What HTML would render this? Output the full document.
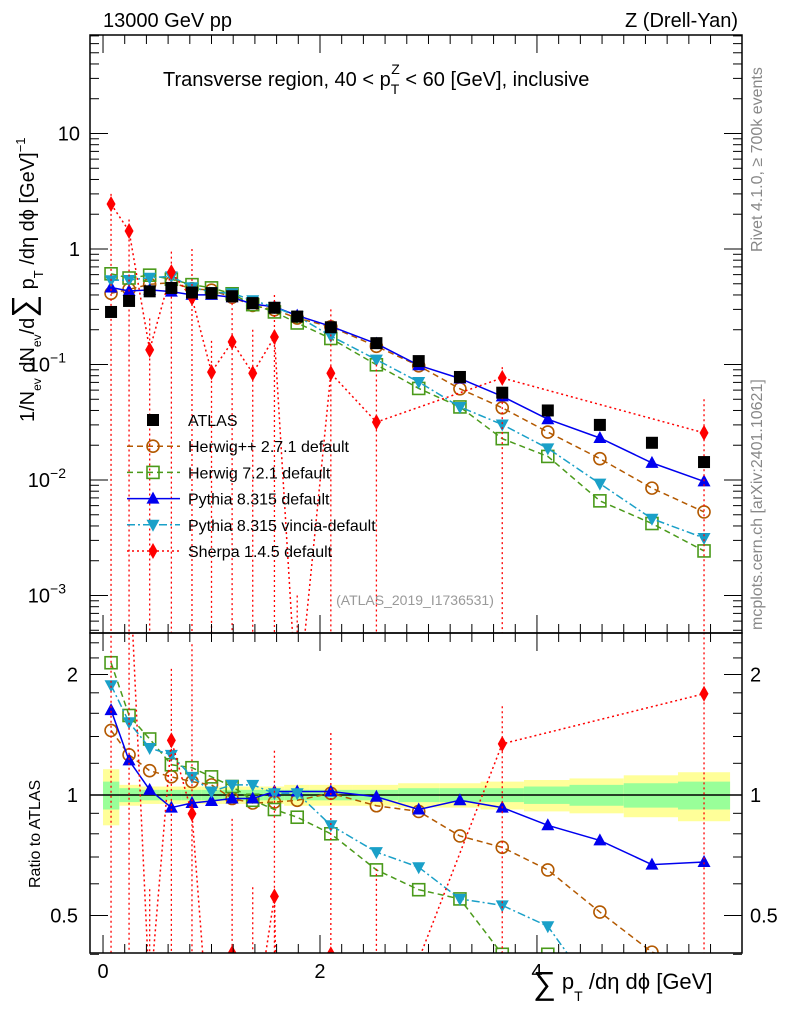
<!DOCTYPE html>
<html><head><meta charset="utf-8"><style>
html,body{margin:0;background:#fff;overflow:hidden;width:786px;height:1024px}
svg{font-family:"Liberation Sans",sans-serif;display:block}
</style></head><body>
<svg id="chart" width="786" height="1024" viewBox="0 0 786 1024" overflow="hidden" xmlns="http://www.w3.org/2000/svg"></svg>
<script>
const binX=[0.074,0.24,0.43,0.63,0.82,1.0,1.19,1.38,1.58,1.79,2.1,2.52,2.91,3.29,3.68,4.1,4.58,5.06,5.54];
const binEdges=[0,0.15,0.34,0.52,0.72,0.91,1.1,1.29,1.48,1.67,1.9,2.3,2.72,3.1,3.48,3.88,4.3,4.8,5.3,5.78];
const atlas=[0.285,0.355,0.43,0.46,0.42,0.415,0.39,0.34,0.31,0.26,0.21,0.153,0.107,0.078,0.057,0.040,0.030,0.021,0.0143];
const bandTot=[0.16,0.06,0.05,0.05,0.05,0.05,0.05,0.05,0.05,0.06,0.06,0.06,0.07,0.07,0.08,0.09,0.10,0.12,0.14];
const bandStat=[0.08,0.04,0.03,0.03,0.03,0.03,0.03,0.03,0.03,0.03,0.03,0.03,0.04,0.04,0.04,0.05,0.06,0.07,0.08];
const herwigpp=[1.45,1.26,1.15,1.11,1.08,1.06,0.98,0.955,0.96,0.97,1.01,0.94,0.91,0.79,0.74,0.65,0.51,0.405,0.37];
const herwig7=[2.14,1.58,1.38,1.19,1.17,1.11,1.05,0.97,0.92,0.88,0.80,0.65,0.58,0.55,0.40,0.40,0.22,0.20,0.17];
const pythia=[1.63,1.22,1.03,0.93,0.955,0.966,0.98,0.98,1.02,1.02,1.02,0.99,0.92,0.97,0.93,0.84,0.77,0.67,0.68];
const vincia=[1.88,1.52,1.31,1.26,1.11,1.02,1.06,1.06,1.01,1.01,0.84,0.72,0.66,0.55,0.53,0.47,0.31,0.22,0.22];
const sherpa=[2.45,1.43,0.134,0.63,0.377,0.086,0.157,0.084,0.173,0.0001,0.084,0.0317,null,null,0.0765,null,null,null,0.0256];
const sherpaHi=[3.0,1.8,0.25,0.95,1.0,0.16,0.34,0.2,0.4,0.001,0.3,0.1,null,null,0.095,null,null,null,0.05];
const yTicks=[10,1,0.1,0.01,0.001];
const yTickLabels=["10","1","10","10","10"];
const yTickExp=["","","−1","−2","−3"];
const rTicks=[0.5,1,2];
const rTickLabels=["0.5","1","2"];
const xTicks=[0,2,4];

const svg=document.getElementById('chart');const NS='http://www.w3.org/2000/svg';
function mk(tag,attrs,parent,name){const e=document.createElementNS(NS,tag);for(const k in attrs)e.setAttribute(k,attrs[k]);


(parent||svg).appendChild(e);return e;}
const L=90,R=742,T=35,M=633,B=953;
const xmin=-0.12,xmax=5.89;
const X=v=>L+(v-xmin)/(xmax-xmin)*(R-L);
const Y=v=>249-Math.log10(v)*115.5;
const RY=v=>795-Math.log2(v)*120.5;
const clipM=mk('clipPath',{id:'cm'},svg,'main-clip');mk('rect',{x:L,y:T,width:R-L,height:M-T},clipM,'main-clip-rect');
const clipR=mk('clipPath',{id:'cr'},svg,'ratio-clip');mk('rect',{x:L,y:M,width:R-L,height:B-M},clipR,'ratio-clip-rect');
const gM=mk('g',{'clip-path':'url(#cm)'},svg,'main-plot');
const gR=mk('g',{'clip-path':'url(#cr)'},svg,'ratio-plot');

for(let i=0;i<binX.length;i++){
 const x0=X(binEdges[i]),x1=X(binEdges[i+1]);
 mk('rect',{x:x0,y:RY(1+bandTot[i]),width:x1-x0,height:RY(1-bandTot[i])-RY(1+bandTot[i]),fill:'#ffff99'},gR,'total-uncertainty-band');
 mk('rect',{x:x0,y:RY(1+bandStat[i]),width:x1-x0,height:RY(1-bandStat[i])-RY(1+bandStat[i]),fill:'#99ff99'},gR,'stat-uncertainty-band');
}
mk('line',{x1:L,x2:R,y1:RY(1),y2:RY(1),stroke:'#000','stroke-width':1.5},gR,'ratio-unity-line');

function marker(g,type,x,y,c,name){
 const s=6;
 if(type==='sq')mk('rect',{x:x-s,y:y-s,width:2*s,height:2*s,fill:'#000'},g,name);
 if(type==='circ')mk('circle',{cx:x,cy:y,r:s,fill:'none',stroke:c,'stroke-width':1.6},g,name);
 if(type==='osq')mk('rect',{x:x-s,y:y-s,width:2*s,height:2*s,fill:'none',stroke:c,'stroke-width':1.6},g,name);
 if(type==='tri')mk('polygon',{points:`${x},${y-7} ${x-6.5},${y+5} ${x+6.5},${y+5}`,fill:c},g,name);
 if(type==='itri')mk('polygon',{points:`${x},${y+7} ${x-6.5},${y-5} ${x+6.5},${y-5}`,fill:c},g,name);
 if(type==='dia')mk('polygon',{points:`${x},${y-8} ${x-4.5},${y} ${x},${y+8} ${x+4.5},${y}`,fill:c},g,name);
}
const series=[
 {n:'herwigpp',r:herwigpp,c:'#b35900',dash:'6,4',m:'circ'},
 {n:'herwig7',r:herwig7,c:'#4a9a1a',dash:'6,4',m:'osq'},
 {n:'pythia',r:pythia,c:'#0000ee',dash:'',m:'tri'},
 {n:'vincia',r:vincia,c:'#1aa0c8',dash:'8,3,2,3',m:'itri'}];
series.forEach(s=>{
 const pm=binX.map((x,i)=>X(x)+','+Y(s.r[i]*atlas[i])).join(' ');
 const pr=binX.map((x,i)=>X(x)+','+RY(s.r[i])).join(' ');
 mk('polyline',{points:pm,fill:'none',stroke:s.c,'stroke-width':1.5,'stroke-dasharray':s.dash},gM,s.n+'-line');
 mk('polyline',{points:pr,fill:'none',stroke:s.c,'stroke-width':1.5,'stroke-dasharray':s.dash},gR,s.n+'-ratio-line');
 binX.forEach((x,i)=>{marker(gM,s.m,X(x),Y(s.r[i]*atlas[i]),s.c,s.n+'-point');marker(gR,s.m,X(x),RY(s.r[i]),s.c,s.n+'-ratio-point');});
});
const sIdx=sherpa.map((v,i)=>v==null?-1:i).filter(i=>i>=0);
mk('polyline',{points:sIdx.map(i=>X(binX[i])+','+Y(sherpa[i])).join(' '),fill:'none',stroke:'#f00','stroke-width':1.5,'stroke-dasharray':'2,3'},gM,'sherpa-line');
mk('polyline',{points:sIdx.map(i=>X(binX[i])+','+RY(sherpa[i]/atlas[i])).join(' '),fill:'none',stroke:'#f00','stroke-width':1.5,'stroke-dasharray':'2,3'},gR,'sherpa-ratio-line');
sIdx.forEach(i=>{
 const x=X(binX[i]);
 mk('line',{x1:x,x2:x,y1:Y(sherpaHi[i]),y2:M+5,stroke:'#f00','stroke-width':1.3,'stroke-dasharray':'2,3'},gM,'sherpa-error-bar');
 mk('line',{x1:x,x2:x,y1:RY(sherpaHi[i]/atlas[i]),y2:B+5,stroke:'#f00','stroke-width':1.3,'stroke-dasharray':'2,3'},gR,'sherpa-ratio-error-bar');
 marker(gM,'dia',x,Y(sherpa[i]),'#f00','sherpa-point');
 marker(gR,'dia',x,RY(sherpa[i]/atlas[i]),'#f00','sherpa-ratio-point');
});
binX.forEach((x,i)=>marker(gM,'sq',X(x),Y(atlas[i]),'#000','atlas-point'));

mk('rect',{x:L,y:T,width:R-L,height:M-T,fill:'none',stroke:'#000','stroke-width':1.5},svg,'main-frame');
mk('rect',{x:L,y:M,width:R-L,height:B-M,fill:'none',stroke:'#000','stroke-width':1.5},svg,'ratio-frame');
for(let d=-4;d<=1;d++){for(let k=1;k<10;k++){const v=k*Math.pow(10,d);const y=Y(v);if(y<T||y>M)continue;const len=k===1?18:9;
 mk('line',{x1:L,x2:L+len,y1:y,y2:y,stroke:'#000'},svg,'y-tick');mk('line',{x1:R,x2:R-len,y1:y,y2:y,stroke:'#000'},svg,'y-tick-right');}}
yTicks.forEach((v,i)=>{const t=mk('text',{x:80,y:Y(v)+7,'text-anchor':'end','font-size':20},svg,'y-tick-label');t.textContent=yTickLabels[i];
 if(yTickExp[i]){t.setAttribute('x',66);const e=mk('tspan',{dy:-9,'font-size':14},t,'y-tick-exponent');e.textContent=yTickExp[i];}});
[0.4,0.5,0.6,0.7,0.8,0.9,1,1.2,1.4,1.6,1.8,2,2.2,2.4].forEach(v=>{const y=RY(v);const len=[0.5,1,2].includes(v)?18:9;
 mk('line',{x1:L,x2:L+len,y1:y,y2:y,stroke:'#000'},svg,'ratio-tick');mk('line',{x1:R,x2:R-len,y1:y,y2:y,stroke:'#000'},svg,'ratio-tick-right');});
rTicks.forEach((v,i)=>{const a=mk('text',{x:78,y:RY(v)+7,'text-anchor':'end','font-size':20},svg,'ratio-tick-label');a.textContent=rTickLabels[i];
 const b=mk('text',{x:750,y:RY(v)+7,'font-size':20},svg,'ratio-tick-label-right');b.textContent=rTickLabels[i];});
for(let v=0;v<=5.8;v+=0.2){const x=X(v);const major=Math.abs(v/2-Math.round(v/2))<0.01;const len=major?18:9;
 [[M,M-len],[M,M+len],[T,T+len],[B,B-len]].forEach(p=>mk('line',{x1:x,x2:x,y1:p[0],y2:p[1],stroke:'#000'},svg,'x-tick'));}
xTicks.forEach(v=>{const t=mk('text',{x:X(v),y:978,'text-anchor':'middle','font-size':20},svg,'x-tick-label');t.textContent=v;});

function txt(x,y,s,size,name,extra){const t=mk('text',Object.assign({x:x,y:y,'font-size':size},extra||{}),svg,name);t.textContent=s;return t;}
txt(103,27,'13000 GeV pp',20,'beam-label');
txt(738,27,'Z (Drell-Yan)',20,'process-label',{'text-anchor':'end'});
const tt=txt(163,86,'Transverse region, 40 < p',20,'region-title');
const ts=mk('tspan',{dy:8,'font-size':14},tt,'title-sub');ts.textContent='T';
const tz=mk('tspan',{dx:-8,dy:-20,'font-size':14},tt,'title-sup');tz.textContent='Z';
const tr=mk('tspan',{dy:12},tt,'title-rest');tr.textContent=' < 60 [GeV], inclusive';
txt(415,605,'(ATLAS_2019_I1736531)',14,'analysis-id',{'text-anchor':'middle',fill:'#999'});
txt(0,0,'Rivet 4.1.0, ≥ 700k events',16,'rivet-label',{transform:'translate(762,252) rotate(-90)',fill:'#888'});
txt(0,0,'mcplots.cern.ch [arXiv:2401.10621]',16,'mcplots-label',{transform:'translate(762,630) rotate(-90)',fill:'#888'});
const yl=txt(0,0,'1/N',20,'y-axis-title',{transform:'translate(34,422) rotate(-90)'});
[['ev',7,12],[' dN',-7,20],['ev',7,12],['/d',-7,20],['∑',0,32],[' p',0,20],['T',9,13],[' /dη dϕ  [GeV]',-9,20],['−1',-9,13]].forEach(p=>{const s=mk('tspan',{dy:p[1],'font-size':p[2]},yl,'y-axis-title-part');s.textContent=p[0];});
txt(0,0,'Ratio to ATLAS',16,'ratio-axis-title',{transform:'translate(40,888) rotate(-90)'});
const xl=txt(533,994,'∑',32,'x-axis-title');
[[' p',-5,22],['T',12,14],[' /dη dϕ [GeV]',-12,22]].forEach(p=>{const s=mk('tspan',{dy:p[1],'font-size':p[2]},xl,'x-axis-title-part');s.textContent=p[0];});

const leg=[['ATLAS','sq','#000',''],['Herwig++ 2.7.1 default','circ','#b35900','6,4'],['Herwig 7.2.1 default','osq','#4a9a1a','6,4'],
['Pythia 8.315 default','tri','#0000ee',''],['Pythia 8.315 vincia-default','itri','#1aa0c8','8,3,2,3'],['Sherpa 1.4.5 default','dia','#f00','2,3']];
leg.forEach((l,i)=>{const y=420+i*26.2;
 if(i>0)mk('line',{x1:127,x2:180,y1:y,y2:y,stroke:l[2],'stroke-width':1.5,'stroke-dasharray':l[3]},svg,'legend-line');
 marker(svg,l[1],153,y,l[2],'legend-marker');
 txt(188,y+6,l[0],16,'legend-entry');});
</script>
</body></html>
